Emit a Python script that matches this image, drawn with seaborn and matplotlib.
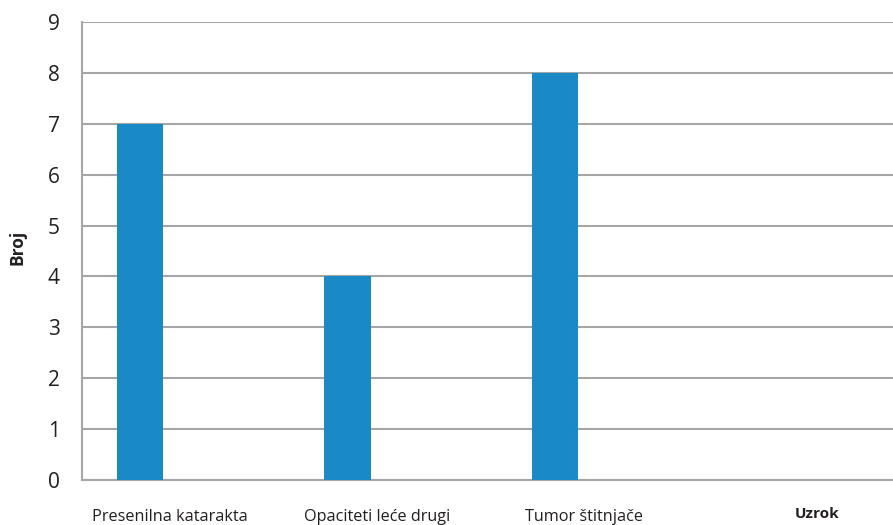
import matplotlib
matplotlib.use("Agg")
import matplotlib.pyplot as plt
import seaborn as sns
import pandas as pd

categories = ["Presenilna katarakta", "Opaciteti leće drugi", "Tumor štitnjače"]
counts = [7, 4, 8]
y_ticks = list(range(0, 10))

sns.set_theme(style="white")
plt.rcParams["font.family"] = ["Open Sans", "DejaVu Sans"]

text_color = "#231f20"
grid_color = "#a6a6a6"
bar_color = "#1a8ac6"

df = pd.DataFrame({"Uzrok": categories, "Broj": counts})

fig = plt.figure(figsize=(8.93, 5.25), dpi=100)
ax = fig.add_axes([82 / 893, 45 / 525, 811 / 893, 458 / 525])

sns.barplot(data=df, x="Uzrok", y="Broj", color=bar_color, width=0.222,
            saturation=1, linewidth=0, ax=ax, zorder=3)

ax.set_ylim(0, 9)
ax.set_yticks(y_ticks)
ax.set_xlim(-0.28, 3.63)
ax.yaxis.grid(True, color=grid_color, linewidth=1.5, zorder=0)
ax.set_axisbelow(True)

# category labels sit to the right of each bar, in the middle of its slot
ax.set_xticks([i + 0.142 for i in range(len(categories))])
ax.set_xticklabels(categories, fontsize=11.7, color=text_color)
ax.tick_params(axis="x", length=0, pad=21)
ax.tick_params(axis="y", length=0, pad=16, labelsize=15, labelcolor=text_color)

for side in ["top", "right"]:
    ax.spines[side].set_visible(False)
for side in ["left", "bottom"]:
    ax.spines[side].set_color(grid_color)
    ax.spines[side].set_linewidth(1.5)

ax.set_ylabel("Broj", fontsize=12.5, fontweight="bold", color=text_color)
ax.yaxis.set_label_coords(-0.068, 0.507)
ax.set_xlabel("Uzrok", fontsize=11, fontweight="bold", color=text_color)
ax.xaxis.set_label_coords(0.906, -0.058)

fig.savefig("out.png", dpi=100)
